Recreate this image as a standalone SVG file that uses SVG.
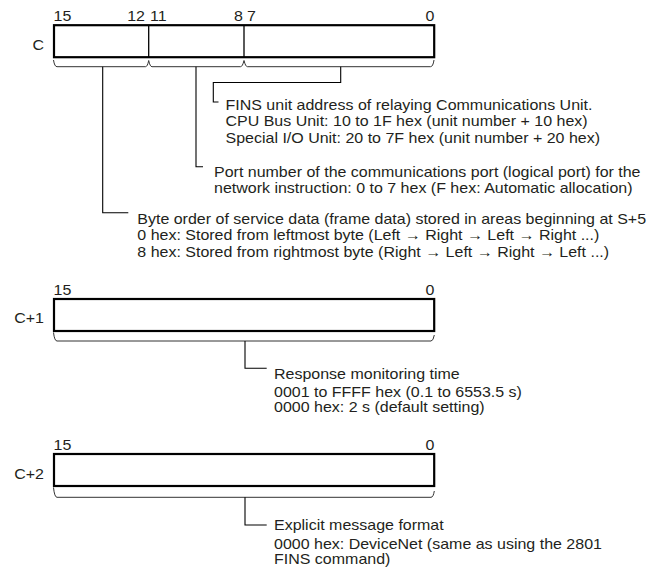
<svg xmlns="http://www.w3.org/2000/svg" width="651" height="568" viewBox="0 0 651 568">
<style>
text{font-family:"Liberation Sans",Arial,Helvetica,sans-serif;font-size:15px;fill:#231f20}
.e{text-anchor:end}
.box{fill:#fff;stroke:#000;stroke-width:2.2}
.div{stroke:#000;stroke-width:1.3}
.ln{fill:none;stroke:#000;stroke-width:1.1}
.br{fill:none;stroke:#333;stroke-width:1}
</style>
<rect width="651" height="568" fill="#fff"/>

<g id="word-c">
 <rect class="box" x="54" y="25.2" width="380.2" height="32"/>
 <line class="div" x1="148.7" y1="25" x2="148.7" y2="57.5"/>
 <line class="div" x1="244" y1="25" x2="244" y2="57.5"/>
 <text transform="translate(53.5 20.7) scale(1.066 1)">15</text>
 <text class="e" transform="translate(145 20.7) scale(1.066 1)">12</text>
 <text transform="translate(150 20.7) scale(1.066 1)">11</text>
 <text class="e" transform="translate(243 20.7) scale(1.066 1)">8</text>
 <text transform="translate(247 20.7) scale(1.066 1)">7</text>
 <text class="e" transform="translate(434.5 20.7) scale(1.066 1)">0</text>
 <text class="e" transform="translate(44 50) scale(1.066 1)">C</text>
</g>

<g id="word-c1">
 <rect class="box" x="54" y="299" width="380.2" height="32"/>
 <text transform="translate(53.5 295) scale(1.066 1)">15</text>
 <text class="e" transform="translate(434.5 295) scale(1.066 1)">0</text>
 <text class="e" transform="translate(44 322.7) scale(1.066 1)">C+1</text>
</g>

<g id="word-c2">
 <rect class="box" x="54" y="454" width="380.2" height="32"/>
 <text transform="translate(53.5 450) scale(1.066 1)">15</text>
 <text class="e" transform="translate(434.5 450) scale(1.066 1)">0</text>
 <text class="e" transform="translate(44 479.3) scale(1.066 1)">C+2</text>
</g>

<g id="connectors">
 <path class="br" d="M53.5,60 Q54.5,66.7 57,66.7 H145.5 Q147.5,66.7 148.7,60.5 Q150,66.7 152,66.7 H240.5 Q242.5,66.7 244,60.5 Q245.5,66.7 247.5,66.7 H430.5 Q433,66.7 434,60"/>
 <path class="ln" d="M340.7,66.7 V82.5 H213.3 V102 H218.5"/>
 <path class="ln" d="M196,66.7 V166.7 H203"/>
 <path class="ln" d="M102.7,66.7 V212.7 H128.3"/>
 <path class="br" d="M53.5,332.5 Q54.5,341 57,341 H431 Q433.3,341 434.3,335"/>
 <path class="ln" d="M245,341 V368.3 H266.7"/>
 <path class="br" d="M53.5,487.5 Q54.5,497.3 57,497.3 H431 Q433.3,497.3 434.3,491"/>
 <path class="ln" d="M245,497.3 V525 H266.7"/>
</g>

<g id="note-fins">
 <text transform="translate(225.5 109.5) scale(1.066 1)">FINS unit address of relaying Communications Unit.</text>
 <text transform="translate(225.5 126.2) scale(1.066 1)">CPU Bus Unit: 10 to 1F hex (unit number + 10 hex)</text>
 <text transform="translate(225.5 143) scale(1.066 1)">Special I/O Unit: 20 to 7F hex (unit number + 20 hex)</text>
</g>

<g id="note-port">
 <text transform="translate(214 176.5) scale(1.066 1)">Port number of the communications port (logical port) for the</text>
 <text transform="translate(214 193.2) scale(1.066 1)">network instruction: 0 to 7 hex (F hex: Automatic allocation)</text>
</g>

<g id="note-byte">
 <text transform="translate(137.3 223.5) scale(1.066 1)">Byte order of service data (frame data) stored in areas beginning at S+5</text>
 <text transform="translate(137.3 240.2) scale(1.066 1)">0 hex: Stored from leftmost byte (Left → Right → Left → Right ...)</text>
 <text transform="translate(137.3 257) scale(1.066 1)">8 hex: Stored from rightmost byte (Right → Left → Right → Left ...)</text>
</g>

<g id="note-response">
 <text transform="translate(274 378.5) scale(1.066 1)">Response monitoring time</text>
 <text transform="translate(274 396.5) scale(1.066 1)">0001 to FFFF hex (0.1 to 6553.5 s)</text>
 <text transform="translate(274 411.5) scale(1.066 1)">0000 hex: 2 s (default setting)</text>
</g>

<g id="note-explicit">
 <text transform="translate(274 530) scale(1.066 1)">Explicit message format</text>
 <text transform="translate(274 549) scale(1.066 1)">0000 hex: DeviceNet (same as using the 2801</text>
 <text transform="translate(274 564) scale(1.066 1)">FINS command)</text>
</g>
</svg>
